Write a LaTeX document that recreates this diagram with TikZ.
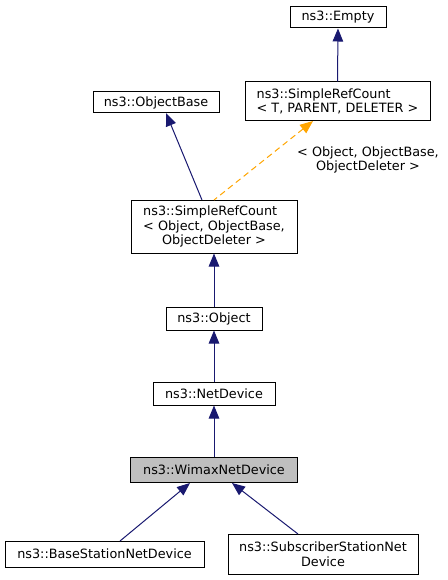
\documentclass[tikz,border=0pt]{standalone}
\usepackage{fontspec}
\setmainfont{DejaVu Sans}
\usetikzlibrary{arrows.meta}
\definecolor{edgeblue}{HTML}{191970}
\definecolor{edgeorange}{HTML}{FFA500}
\definecolor{curgray}{HTML}{BFBFBF}
\newcommand{\lbfont}{\fontsize{12.8}{14.5}\selectfont}
\newlength{\mylw}
\begin{document}
\begin{tikzpicture}[x=1pt,y=-1pt,
  cls/.style={draw=black,line width=1pt,fill=white,inner sep=0pt,align=center,font=\lbfont},
  inh/.style={draw=edgeblue,line width=1pt,{Triangle[length=13pt,width=10.5pt,fill=edgeblue]}-},
  tmpl/.style={draw=edgeorange,line width=1pt,dash pattern=on 6pt off 4pt,{Triangle[length=13pt,width=10.5pt,fill=edgeorange]}-}]
\useasboundingbox (0,0) rectangle (447,580);
\node[cls,minimum width=96pt,minimum height=21pt] (empty) at (338,17.5) {ns3::Empty};
\node[cls,minimum width=185pt,minimum height=39pt,align=left] (srct) at (337.5,101.5) {ns3::SimpleRefCount\\< T, PARENT, DELETER >};
\node[cls,minimum width=126pt,minimum height=21pt] (obase) at (156,102.5) {ns3::ObjectBase};
\node[cls,minimum width=166pt,minimum height=53pt] (srco) at (214,226.5) {\settowidth{\mylw}{< Object, ObjectBase,}\makebox[\mylw][l]{ns3::SimpleRefCount}\\< Object, ObjectBase,\\ObjectDeleter >};
\node[cls,minimum width=96pt,minimum height=23pt] (obj) at (214,318.5) {ns3::Object};
\node[cls,minimum width=122pt,minimum height=23pt] (nd) at (214,393.5) {ns3::NetDevice};
\node[cls,fill=curgray,minimum width=167pt,minimum height=25pt] (wnd) at (214,470) {ns3::WimaxNetDevice};
\node[cls,minimum width=199pt,minimum height=26pt] (bs) at (104.5,554) {ns3::BaseStationNetDevice};
\node[cls,minimum width=190pt,minimum height=40pt] (ss) at (323,554) {ns3::SubscriberStationNet\\Device};
\coordinate (ob1) at (166,113);
\coordinate (so1) at (202,200);
\coordinate (st1) at (313,121);
\coordinate (so2) at (214,200);
\coordinate (w1) at (190,483);
\coordinate (b1) at (120,541);
\coordinate (w2) at (232,483);
\coordinate (s1) at (298,534);
\draw[inh] (empty.south) -- (srct.north);
\draw[inh] (ob1) -- (so1);
\draw[tmpl] (st1) -- (so2);
\node[align=center,font=\lbfont,inner sep=0pt] (lbl) at (368,160) {< Object, ObjectBase,\\ObjectDeleter >};
\draw[inh] (srco.south) -- (obj.north);
\draw[inh] (obj.south) -- (nd.north);
\draw[inh] (nd.south) -- (wnd.north);
\draw[inh] (w1) -- (b1);
\draw[inh] (w2) -- (s1);
\end{tikzpicture}
\end{document}
